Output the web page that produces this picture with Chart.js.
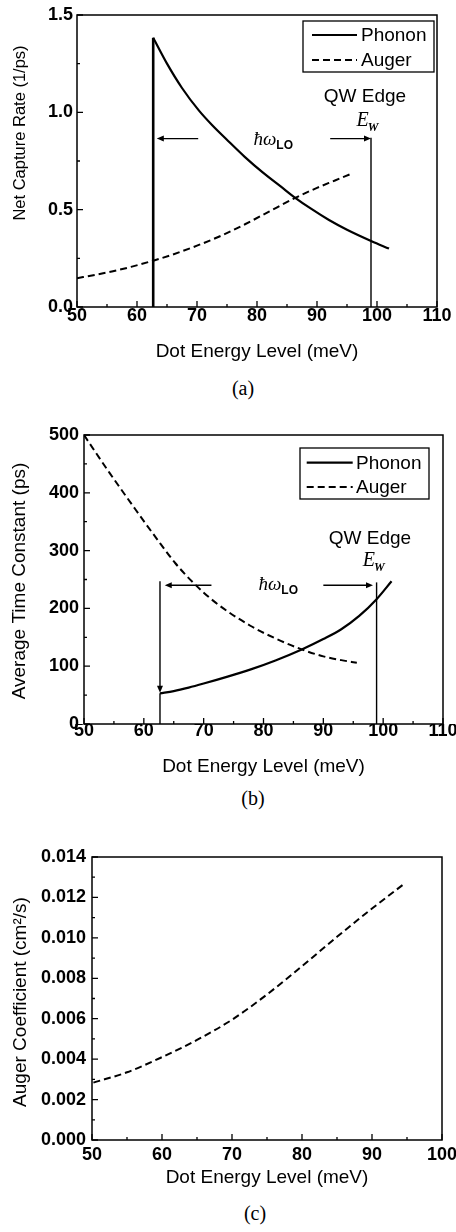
<!DOCTYPE html>
<html>
<head>
<meta charset="utf-8">
<script src="https://cdn.jsdelivr.net/npm/chart.js@4.4.0/dist/chart.umd.min.js"></script>
<style>
  html, body { margin: 0; padding: 0; background: #fff; }
  body { width: 456px; height: 1232px; position: relative; overflow: hidden; }
  canvas { position: absolute; left: 0; }
  .cap { position: absolute; width: 60px; height: 24px; line-height: 24px; text-align: center;
         font-family: "Liberation Serif", "DejaVu Serif", serif; font-size: 20px; color: #000; }
</style>
</head>
<body>
<canvas id="chartA" width="456" height="363" style="top:0px"></canvas>
<div class="cap" style="left:213px;top:376px">(a)</div>
<canvas id="chartB" width="456" height="378" style="top:400px"></canvas>
<div class="cap" style="left:223px;top:786px">(b)</div>
<canvas id="chartC" width="456" height="369" style="top:820px"></canvas>
<div class="cap" style="left:225px;top:1201px">(c)</div>

<script>
// Data

// (a) net capture rate, 1/ps
const phononEnergyA = [62.7, 65, 67.5, 70.3, 72.5, 74.9, 78, 81, 84, 86.2, 89, 92, 95, 99.1, 102];
const phononRateA   = [1.383, 1.25, 1.125, 1.01, 0.935, 0.862, 0.77, 0.69, 0.618, 0.565, 0.505, 0.447, 0.397, 0.338, 0.3];
const stemEnergyA   = [62.7, 62.7];
const stemRateA     = [0, 1.383];
const augerEnergyA  = [50, 53, 56, 59, 62.7, 66, 70, 74, 78, 82, 86.2, 90, 93, 95.6];
const augerRateA    = [0.148, 0.165, 0.184, 0.206, 0.238, 0.27, 0.315, 0.366, 0.425, 0.49, 0.558, 0.612, 0.65, 0.683];

// (b) average time constant, ps
const phononEnergyB = [62.7, 65, 67.5, 70, 74, 78, 82, 86.4, 90, 93, 96, 98.9, 101.4];
const phononTimeB   = [53, 57, 63, 70, 82, 95, 110, 129, 147, 164, 187, 216, 247];
const stemEnergyB   = [62.7, 62.7];
const stemTimeB     = [0, 53];
const augerEnergyB  = [50, 52, 54.3, 56, 58.2, 60, 62.7, 65.2, 68.3, 72, 77.8, 82, 86.4, 90, 93, 95.6];
const augerTimeB    = [500, 469, 434, 409, 377, 351, 313, 279, 244, 210, 170, 148, 129, 117, 110.5, 106];

// (c) Auger coefficient, cm^2/s
const augerEnergyC  = [50.2, 55, 60, 65, 70, 75, 80, 85, 90, 94.7];
const augerCoeffC   = [0.00284, 0.00335, 0.0041, 0.00495, 0.00595, 0.0072, 0.0086, 0.01005, 0.01145, 0.0127];

// Ticks
const energyTicksAB = [50, 60, 70, 80, 90, 100, 110];
const energyMinorAB = [55, 65, 75, 85, 95, 105];
const energyTicksC  = [50, 60, 70, 80, 90, 100];
const energyMinorC  = [55, 65, 75, 85, 95];
const rateTicksA    = [0, 0.5, 1.0, 1.5];
const rateMinorA    = [0.25, 0.75, 1.25];
const timeTicksB    = [0, 100, 200, 300, 400, 500];
const timeMinorB    = [50, 150, 250, 350, 450];
const coeffTicksC   = [0, 0.002, 0.004, 0.006, 0.008, 0.010, 0.012, 0.014];
const coeffMinorC   = [0.001, 0.003, 0.005, 0.007, 0.009, 0.011, 0.013];

const SANS = "'Liberation Sans', Arial, sans-serif";
const SERIF = "'Liberation Serif', 'DejaVu Serif', serif";

const pts = (xs, ys) => xs.map((x, i) => ({ x: x, y: ys[i] }));

const solid = { borderColor: '#000', borderWidth: 2.2, pointRadius: 0, fill: false, cubicInterpolationMode: 'monotone' };
const dashed = { borderColor: '#000', borderWidth: 2, borderDash: [7, 4], pointRadius: 0, fill: false, cubicInterpolationMode: 'monotone' };

// arrow from (x1,y1) to tip (x2,y2)
function arrow(ctx, x1, y1, x2, y2) {
    const ang = Math.atan2(y2 - y1, x2 - x1);
    const len = 7, half = 3;
    ctx.beginPath();
    ctx.moveTo(x1, y1);
    ctx.lineTo(x2 - Math.cos(ang) * len * 0.6, y2 - Math.sin(ang) * len * 0.6);
    ctx.stroke();
    ctx.beginPath();
    ctx.moveTo(x2, y2);
    ctx.lineTo(x2 - Math.cos(ang) * len - Math.sin(ang) * half, y2 - Math.sin(ang) * len + Math.cos(ang) * half);
    ctx.lineTo(x2 - Math.cos(ang) * len + Math.sin(ang) * half, y2 - Math.sin(ang) * len - Math.cos(ang) * half);
    ctx.closePath();
    ctx.fill();
}

// Frame, inward ticks, y title, legend and annotations
const decor = {
    id: 'decor',
    afterDraw(chart, args, o) {
        const { ctx, chartArea: a, scales: { x, y } } = chart;
        ctx.save();
        ctx.strokeStyle = '#000';
        ctx.fillStyle = '#000';

        // frame
        ctx.lineWidth = 1.5;
        ctx.strokeRect(a.left, a.top, a.right - a.left, a.bottom - a.top);

        // ticks
        ctx.lineWidth = 1.3;
        ctx.beginPath();
        o.xMajor.forEach(v => { const p = x.getPixelForValue(v); ctx.moveTo(p, a.bottom); ctx.lineTo(p, a.bottom - 6); });
        o.xMinor.forEach(v => { const p = x.getPixelForValue(v); ctx.moveTo(p, a.bottom); ctx.lineTo(p, a.bottom - 3); });
        o.yMajor.forEach(v => { const p = y.getPixelForValue(v); ctx.moveTo(a.left, p); ctx.lineTo(a.left + 6, p); });
        o.yMinor.forEach(v => { const p = y.getPixelForValue(v); ctx.moveTo(a.left, p); ctx.lineTo(a.left + 3, p); });
        ctx.stroke();

        // y title
        ctx.save();
        ctx.translate(o.yTitle.x, o.yTitle.y);
        ctx.rotate(-Math.PI / 2);
        ctx.font = o.yTitle.size + 'px ' + SANS;
        ctx.textAlign = 'center';
        ctx.textBaseline = 'middle';
        ctx.fillText(o.yTitle.text, 0, 0);
        ctx.restore();

        // legend
        if (o.legend) {
            const L = o.legend;
            ctx.lineWidth = 1.3;
            ctx.strokeRect(L.x1, L.y1, L.x2 - L.x1, L.y2 - L.y1);
            const items = chart.data.datasets.filter(d => d.label);
            items.forEach((d, i) => {
                const ry = L.rows[i];
                ctx.lineWidth = d.borderWidth;
                ctx.setLineDash(d.borderDash || []);
                ctx.beginPath();
                ctx.moveTo(L.lineX1, ry);
                ctx.lineTo(L.lineX2, ry);
                ctx.stroke();
                ctx.setLineDash([]);
                ctx.font = '19px ' + SANS;
                ctx.textAlign = 'left';
                ctx.textBaseline = 'middle';
                ctx.fillText(d.label, L.textX, ry + 1);
            });
        }

        // annotations
        const n = o.notes;
        if (n) {
            const X = v => x.getPixelForValue(v), Y = v => y.getPixelForValue(v);
            ctx.lineWidth = 1.4;
            // QW edge line
            ctx.beginPath();
            ctx.moveTo(X(n.edge), Y(0));
            ctx.lineTo(X(n.edge), Y(n.edgeTop));
            ctx.stroke();
            // arrows
            arrow(ctx, X(n.leftArrow[0]), Y(n.arrowY), X(n.leftArrow[1]), Y(n.arrowY));
            arrow(ctx, X(n.rightArrow[0]), Y(n.arrowY), X(n.rightArrow[1]), Y(n.arrowY));
            if (n.downArrow) arrow(ctx, X(n.downArrow[0]), Y(n.downArrow[1]), X(n.downArrow[0]), Y(n.downArrow[2]));

            // hbar omega LO
            ctx.textAlign = 'left';
            ctx.textBaseline = 'alphabetic';
            ctx.font = 'italic 19px ' + SERIF;
            const hx = X(n.hw[0]), hy = Y(n.hw[1]);
            ctx.fillText('ħω', hx, hy);
            const hw = ctx.measureText('ħω').width;
            ctx.font = 'bold 12px ' + SANS;
            ctx.fillText('LO', hx + hw, hy + 4);

            // QW Edge
            ctx.textAlign = 'center';
            ctx.textBaseline = 'middle';
            ctx.font = '19px ' + SANS;
            ctx.fillText('QW Edge', X(n.qw[0]), Y(n.qw[1]));

            // E_W
            ctx.textAlign = 'left';
            ctx.textBaseline = 'alphabetic';
            ctx.font = 'italic 20px ' + SERIF;
            const ex = X(n.ew[0]), ey = Y(n.ew[1]);
            ctx.fillText('E', ex, ey);
            const eWidth = ctx.measureText('E').width;
            ctx.font = 'italic bold 12px ' + SERIF;
            ctx.fillText('W', ex + eWidth - 1, ey + 5);
        }

        ctx.restore();
    }
};

function buildPanel(id, p) {
    const ctx = document.getElementById(id).getContext('2d');
    return new Chart(ctx, {
        type: 'line',
        data: { datasets: p.datasets },
        options: {
            responsive: false,
            animation: false,
            layout: { padding: p.padding },
            plugins: {
                legend: { display: false },
                tooltip: { enabled: false },
                decor: p.decor
            },
            scales: {
                x: {
                    type: 'linear',
                    min: p.xMin,
                    max: p.xMax,
                    afterBuildTicks: axis => { axis.ticks = p.xTicks.map(v => ({ value: v })); },
                    afterFit: axis => { axis.height = p.xHeight; axis.paddingLeft = 0; axis.paddingRight = 0; },
                    grid: { display: false, drawTicks: false },
                    border: { display: false },
                    ticks: {
                        autoSkip: false, maxRotation: 0, padding: p.xPad, color: '#000',
                        font: { family: SANS, size: 18, weight: 'bold' },
                        callback: v => String(v)
                    },
                    title: {
                        display: true, text: 'Dot Energy Level (meV)', color: '#000', padding: 0,
                        font: { family: SANS, size: 19 }
                    }
                },
                y: {
                    type: 'linear',
                    min: p.yMin,
                    max: p.yMax,
                    afterBuildTicks: axis => { axis.ticks = p.yTicks.map(v => ({ value: v })); },
                    afterFit: axis => { axis.width = p.yWidth; axis.paddingTop = 0; axis.paddingBottom = 0; },
                    grid: { display: false, drawTicks: false },
                    border: { display: false },
                    ticks: {
                        autoSkip: false, padding: p.yPad, color: '#000',
                        font: { family: SANS, size: 18, weight: 'bold' },
                        callback: p.yFormat
                    }
                }
            }
        },
        plugins: [decor]
    });
}

// Panel (a)
buildPanel('chartA', {
    padding: { left: 0, top: 15, right: 19, bottom: 0 },
    xMin: 50, xMax: 110, xTicks: energyTicksAB, xHeight: 56, xPad: -2,
    yMin: 0, yMax: 1.5, yTicks: rateTicksA, yWidth: 77, yPad: 4,
    yFormat: v => v.toFixed(1),
    datasets: [
        Object.assign({ label: 'Phonon', data: pts(phononEnergyA, phononRateA) }, solid),
        Object.assign({ label: 'Auger', data: pts(augerEnergyA, augerRateA) }, dashed),
        Object.assign({ data: pts(stemEnergyA, stemRateA) }, solid, { borderWidth: 2.6, cubicInterpolationMode: 'default' })
    ],
    decor: {
        xMajor: energyTicksAB, xMinor: energyMinorAB, yMajor: rateTicksA, yMinor: rateMinorA,
        yTitle: { text: 'Net Capture Rate (1/ps)', x: 20, y: 133, size: 16.5 },
        legend: { x1: 303, y1: 21, x2: 434, y2: 72, rows: [35, 60], lineX1: 312, lineX2: 357, textX: 361 },
        notes: {
            edge: 99, edgeTop: 0.87, arrowY: 0.865,
            leftArrow: [70.2, 63.3], rightArrow: [92.2, 99],
            hw: [79.4, 0.832], qw: [98, 1.079], ew: [96.6, 0.93]
        }
    }
});

// Panel (b)
buildPanel('chartB', {
    padding: { left: 0, top: 35, right: 13, bottom: 0 },
    xMin: 50, xMax: 110, xTicks: energyTicksAB, xHeight: 54, xPad: -4,
    yMin: 0, yMax: 500, yTicks: timeTicksB, yWidth: 84, yPad: 5,
    yFormat: v => String(v),
    datasets: [
        Object.assign({ label: 'Phonon', data: pts(phononEnergyB, phononTimeB) }, solid),
        Object.assign({ label: 'Auger', data: pts(augerEnergyB, augerTimeB) }, dashed),
        Object.assign({ data: pts(stemEnergyB, stemTimeB) }, solid, { borderWidth: 1.4, cubicInterpolationMode: 'default' })
    ],
    decor: {
        xMajor: energyTicksAB, xMinor: energyMinorAB, yMajor: timeTicksB, yMinor: timeMinorB,
        yTitle: { text: 'Average Time Constant (ps)', x: 20, y: 181, size: 19 },
        legend: { x1: 300, y1: 48, x2: 429, y2: 99, rows: [62.7, 87], lineX1: 306.7, lineX2: 352.7, textX: 356 },
        notes: {
            edge: 98.9, edgeTop: 245, arrowY: 240,
            leftArrow: [71.3, 63.5], rightArrow: [90, 98.3],
            downArrow: [62.7, 247, 54],
            hw: [79.15, 232.6], qw: [97.8, 320.7], ew: [96.6, 273]
        }
    }
});

// Panel (c)
buildPanel('chartC', {
    padding: { left: 0, top: 37, right: 14, bottom: 0 },
    xMin: 50, xMax: 100, xTicks: energyTicksC, xHeight: 49, xPad: 4,
    yMin: 0, yMax: 0.014, yTicks: coeffTicksC, yWidth: 92, yPad: 6,
    yFormat: v => v.toFixed(3),
    datasets: [
        Object.assign({ data: pts(augerEnergyC, augerCoeffC) }, dashed)
    ],
    decor: {
        xMajor: energyTicksC, xMinor: energyMinorC, yMajor: coeffTicksC, yMinor: coeffMinorC,
        yTitle: { text: 'Auger Coefficient (cm²/s)', x: 21, y: 182, size: 19 },
        legend: null,
        notes: null
    }
});
</script>
</body>
</html>
